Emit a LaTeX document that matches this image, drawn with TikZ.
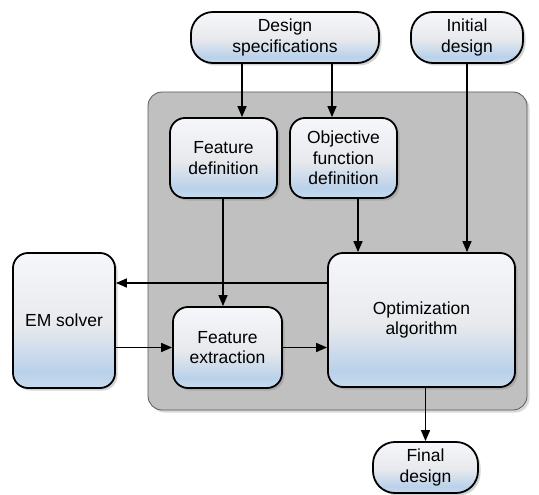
\documentclass[tikz,border=0pt]{standalone}
\usepackage{fontspec}
\setmainfont{Liberation Sans}
\usepackage{tikz}
\usetikzlibrary{arrows.meta, shadows}
\definecolor{boxtop}{HTML}{F5F7FA}
\definecolor{boxmid}{HTML}{E7E9ED}
\definecolor{boxblue}{HTML}{B9D1EA}
\definecolor{boxlow}{HTML}{C8DBEE}
\definecolor{panelgray}{HTML}{C0C0C0}
\pgfdeclareverticalshading{boxfade}{100bp}{color(0bp)=(boxlow); color(25bp)=(boxlow); color(31bp)=(boxblue); color(48bp)=(boxmid); color(75bp)=(boxtop); color(100bp)=(boxtop)}
\tikzstyle{block}=[draw, line width=1.8pt, rounded corners=15pt, shading=boxfade, align=center, inner sep=0pt, font=\fontsize{17.5}{20.5}\selectfont, drop shadow={shadow xshift=2.5pt, shadow yshift=-2.5pt, opacity=0.35}]
\tikzstyle{pill}=[block, rounded corners=22pt]
\tikzstyle{panel}=[draw=black!65, line width=0.8pt, fill=panelgray, rounded corners=14pt, drop shadow={shadow xshift=2.5pt, shadow yshift=-2.5pt, opacity=0.3}]
\tikzstyle{link}=[line width=1.5pt, -{Triangle[length=11pt, width=9pt]}]

\begin{document}
\begin{tikzpicture}[x=1pt, y=-1pt]
        \useasboundingbox (0,0) rectangle (539,495);
        \node[panel, minimum width=379pt, minimum height=318pt] (frame) at (337.5,251) {};
        \node[pill, minimum width=188pt, minimum height=51pt] (spec) at (285,37.5) {Design\\specifications};
        \node[pill, minimum width=112pt, minimum height=51pt] (init) at (467,37.5) {Initial\\design};
        \node[block, minimum width=107pt, minimum height=80pt] (fdef) at (223.5,158) {Feature\\definition};
        \node[block, minimum width=107pt, minimum height=80pt] (odef) at (343.5,158) {Objective\\function\\definition};
        \node[block, minimum width=102pt, minimum height=135pt] (em) at (64,320.5) {EM solver};
        \node[block, minimum width=109pt, minimum height=81pt] (fext) at (227.5,347.5) {Feature\\extraction};
        \node[block, minimum width=187pt, minimum height=134pt] (opt) at (421.5,320) {Optimization\\algorithm};
        \node[pill, minimum width=105pt, minimum height=51pt] (final) at (425.5,467.5) {Final\\design};
        \draw[link] (spec.south -| 242,0) -- (fdef.north -| 242,0);
        \draw[link] (spec.south -| 332,0) -- (odef.north -| 332,0);
        \draw[link] (fdef.south -| 223,0) -- (fext.north -| 223,0);
        \draw[link] (odef.south -| 358,0) -- (opt.north -| 358,0);
        \draw[link] (init.south) -- (opt.north -| init.south);
        \draw[link] (opt.west |- 0,283) -- (em.east |- 0,283);
        \draw[link] (em.east |- fext.west) -- (fext.west);
        \draw[link] (fext.east) -- (opt.west |- fext.east);
        \draw[link] (opt.south -| final.north) -- (final.north);
    \end{tikzpicture}
\end{document}
